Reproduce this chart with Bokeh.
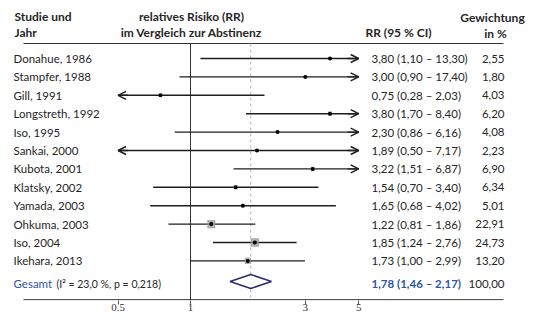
import numpy as np
from bokeh.plotting import figure
from bokeh.models import Range1d, FixedTicker, ColumnDataSource, Arrow, OpenHead
from bokeh.core.properties import value
from bokeh.embed import file_html
from bokeh.resources import INLINE

# ---------------- data ----------------
studies = ["Donahue, 1986", "Stampfer, 1988", "Gill, 1991", "Longstreth, 1992",
           "Iso, 1995", "Sankai, 2000", "Kubota, 2001", "Klatsky, 2002",
           "Yamada, 2003", "Ohkuma, 2003", "Iso, 2004", "Ikehara, 2013"]
rr = [3.80, 3.00, 0.75, 3.80, 2.30, 1.89, 3.22, 1.54, 1.65, 1.22, 1.85, 1.73]
ci_lo = [1.10, 0.90, 0.28, 1.70, 0.86, 0.50, 1.51, 0.70, 0.68, 0.81, 1.24, 1.00]
ci_hi = [13.30, 17.40, 2.03, 8.40, 6.16, 7.17, 6.87, 3.40, 4.02, 1.86, 2.76, 2.99]
weights = [2.55, 1.80, 4.03, 6.20, 4.08, 2.23, 6.90, 6.34, 5.01, 22.91, 24.73, 13.20]
total_rr, total_lo, total_hi, total_w = 1.78, 1.46, 2.17, 100.00
i2, p_value = 23.0, 0.218
tick_values = [0.5, 1, 3, 5]
tick_labels = ["0.5", "1", "3", "5"]
axis_min, axis_max = 0.5, 5.0

# ---------------- layout helpers ----------------
W, H = 535, 320
PX_PER_LN = 104.5
X_ONE = 190          # page x of RR = 1
FB = 300             # page y of frame bottom


def rr_at(px):
    return float(np.exp((px - X_ONE) / PX_PER_LN))


def de(v, n=2):
    return f"{v:.{n}f}".replace(".", ",")


TXT = "#262626"
BLUE = "#2f55a4"
NAVY = "#2b2e6e"
FONT = value("Lato")
FS = "11.5px"

p = figure(width=W, height=H, output_backend="svg", toolbar_location=None,
           x_axis_type="log", y_axis_location=None,
           x_range=Range1d(rr_at(0), rr_at(W)), y_range=Range1d(FB, 0),
           min_border_left=0, min_border_right=0, min_border_top=0,
           min_border_bottom=H - FB, outline_line_color=None)
p.grid.visible = False
p.background_fill_color = "white"

ax = p.xaxis[0]
ax.ticker = FixedTicker(ticks=tick_values)
ax.major_label_overrides = {t: l for t, l in zip(tick_values, tick_labels)}
ax.minor_tick_line_color = None
ax.axis_line_color = None
ax.major_tick_line_color = "#555555"
ax.major_tick_out = 4
ax.major_tick_in = 0
ax.major_label_standoff = -1
ax.major_label_text_font = "Liberation Serif"
ax.major_label_text_font_size = "11px"
ax.major_label_text_color = "#333333"

n = len(studies)
ys = [58 + 18.4 * i for i in range(n)]
y_tot = 281

# reference lines
p.segment(x0=[rr_at(23)], y0=[43], x1=[rr_at(503)], y1=[43], line_color="#333333", line_width=1.2)
p.segment(x0=[rr_at(23)], y0=[FB - 0.8], x1=[rr_at(503)], y1=[FB - 0.8], line_color="#555555", line_width=1.2)
p.segment(x0=[1], y0=[43], x1=[1], y1=[FB], line_color="#333333", line_width=1)
p.segment(x0=[total_rr], y0=[43], x1=[total_rr], y1=[FB - 3], line_color="#b0b0b0",
          line_width=1, line_dash="3 3")

# confidence intervals
xl = [max(v, axis_min) for v in ci_lo]
xh = [min(v, axis_max) for v in ci_hi]
src = ColumnDataSource(dict(y=ys, xl=xl, xh=xh, rr=rr, w=weights,
                            sq=[1.7 * np.sqrt(v) for v in weights]))
p.segment(x0="xl", y0="y", x1="xh", y1="y", source=src, line_color="#1e1e1e", line_width=1.4)
p.scatter(x="rr", y="y", size="sq", marker="square", source=src,
          fill_color="#9a9a9a", line_color=None, fill_alpha=0.8)
p.scatter(x="rr", y="y", size=4, marker="circle", source=src,
          fill_color="black", line_color=None)

# arrow heads for truncated intervals
r_idx = [i for i in range(n) if ci_hi[i] > axis_max]
l_idx = [i for i in range(n) if ci_lo[i] <= axis_min]
ar_src = ColumnDataSource(dict(
    xs=[axis_max * 0.9 for i in r_idx] + [axis_min * 1.1 for i in l_idx],
    xe=[axis_max for i in r_idx] + [axis_min for i in l_idx],
    y=[ys[i] for i in r_idx] + [ys[i] for i in l_idx]))
p.add_layout(Arrow(end=OpenHead(size=8, line_width=1.4, line_color="#1e1e1e"),
                   x_start="xs", y_start="y", x_end="xe", y_end="y",
                   line_color="#1e1e1e", line_width=1.4, source=ar_src))

# overall diamond
p.patch(x=[total_lo, total_rr, total_hi, total_rr], y=[y_tot, y_tot - 7, y_tot, y_tot + 7],
        fill_color="white", line_color=NAVY, line_width=1.6)

# text columns
lab_src = ColumnDataSource(dict(
    y=ys, name=studies,
    ci=[f"{de(a)} ({de(b)} – {de(c)})" for a, b, c in zip(rr, ci_lo, ci_hi)],
    wt=[de(v) for v in weights]))
p.text(x=rr_at(13), y="y", text="name", source=lab_src, text_font=FONT,
       text_font_size=FS, text_color=TXT, text_baseline="middle")
p.text(x=rr_at(371), y="y", text="ci", source=lab_src, text_font=FONT,
       text_font_size=FS, text_color=TXT, text_baseline="middle")
p.text(x=rr_at(504), y="y", text="wt", source=lab_src, text_font=FONT,
       text_font_size=FS, text_color=TXT, text_baseline="middle", text_align="right")

# total row
p.text(x=[rr_at(13)], y=[y_tot + 2], text=["Gesamt"], text_font=FONT, text_font_size=FS,
       text_color=BLUE, text_baseline="middle")
p.text(x=[rr_at(56)], y=[y_tot + 2], text=[f"(I² = {de(i2, 1)} %, p = {de(p_value, 3)})"],
       text_font=FONT, text_font_size="10.5px", text_color=TXT, text_baseline="middle")
p.text(x=[rr_at(371)], y=[y_tot + 2],
       text=[f"{de(total_rr)} ({de(total_lo)} – {de(total_hi)})"], text_font=FONT,
       text_font_size=FS, text_font_style="bold", text_color=BLUE, text_baseline="middle")
p.text(x=[rr_at(504)], y=[y_tot + 2], text=[de(total_w)], text_font=FONT,
       text_font_size=FS, text_color=TXT, text_baseline="middle", text_align="right")

# headers
p.text(x=[rr_at(14), rr_at(14)], y=[16, 32], text=["Studie und", "Jahr"], text_font=FONT,
       text_font_size="12px", text_font_style="bold", text_color=TXT, text_baseline="middle")
p.text(x=[rr_at(191), rr_at(191)], y=[16, 32],
       text=["relatives Risiko (RR)", "im Vergleich zur Abstinenz"], text_font=FONT,
       text_font_size="12px", text_font_style="bold", text_color=TXT, text_baseline="middle",
       text_align="center")
p.text(x=[rr_at(398)], y=[32], text=["RR (95 % CI)"], text_font=FONT,
       text_font_size="12px", text_font_style="bold", text_color=TXT, text_baseline="middle",
       text_align="center")
p.text(x=[rr_at(492), rr_at(495)], y=[17, 33], text=["Gewichtung", "in %"], text_font=FONT,
       text_font_size="12px", text_font_style="bold", text_color=TXT, text_baseline="middle",
       text_align="center")

open("out.html", "w").write(file_html(p, INLINE))
